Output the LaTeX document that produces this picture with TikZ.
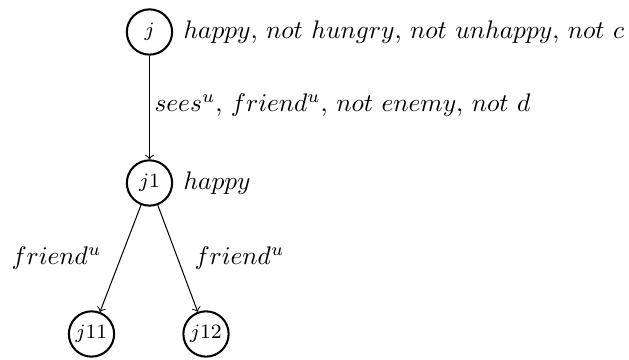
\documentclass[tikz,border=0pt]{standalone}
\begin{document}
\begin{tikzpicture}[x=0.393pt,y=-0.393pt,
  world/.style={circle,draw,thick,minimum size=17.8pt,inner sep=0pt,font=\footnotesize},
  note/.style={inner sep=0pt,anchor=west},
  link/.style={->}]
\useasboundingbox (0,0) rectangle (629,360);
% worlds
\node[world] (j)   at (149.5,32)  {$j$};
\node[world] (j1)  at (149.5,183) {$j1$};
\node[world] (j11) at (91.5,334)  {$j11$};
\node[world] (j12) at (206,334) {$j12$};
% world facts
\node[note] (fj)  at (183,32)  {$happy$, $not\ hungry$, $not\ unhappy$, $not\ c$};
\node[note] (fj1) at (183,183) {$happy$};
% accessibility links
\draw[link] (j) -- (j1);
\draw[link] (j1) -- (j11);
\draw[link] (j1) -- (j12);
% link labels
\node[note] (lj)   at (154,105) {$sees^u$, $friend^u$, $not\ enemy$, $not\ d$};
\node[note] (lj11) at (11,258)  {$friend^u$};
\node[note] (lj12) at (194,258) {$friend^u$};
\end{tikzpicture}
\end{document}
